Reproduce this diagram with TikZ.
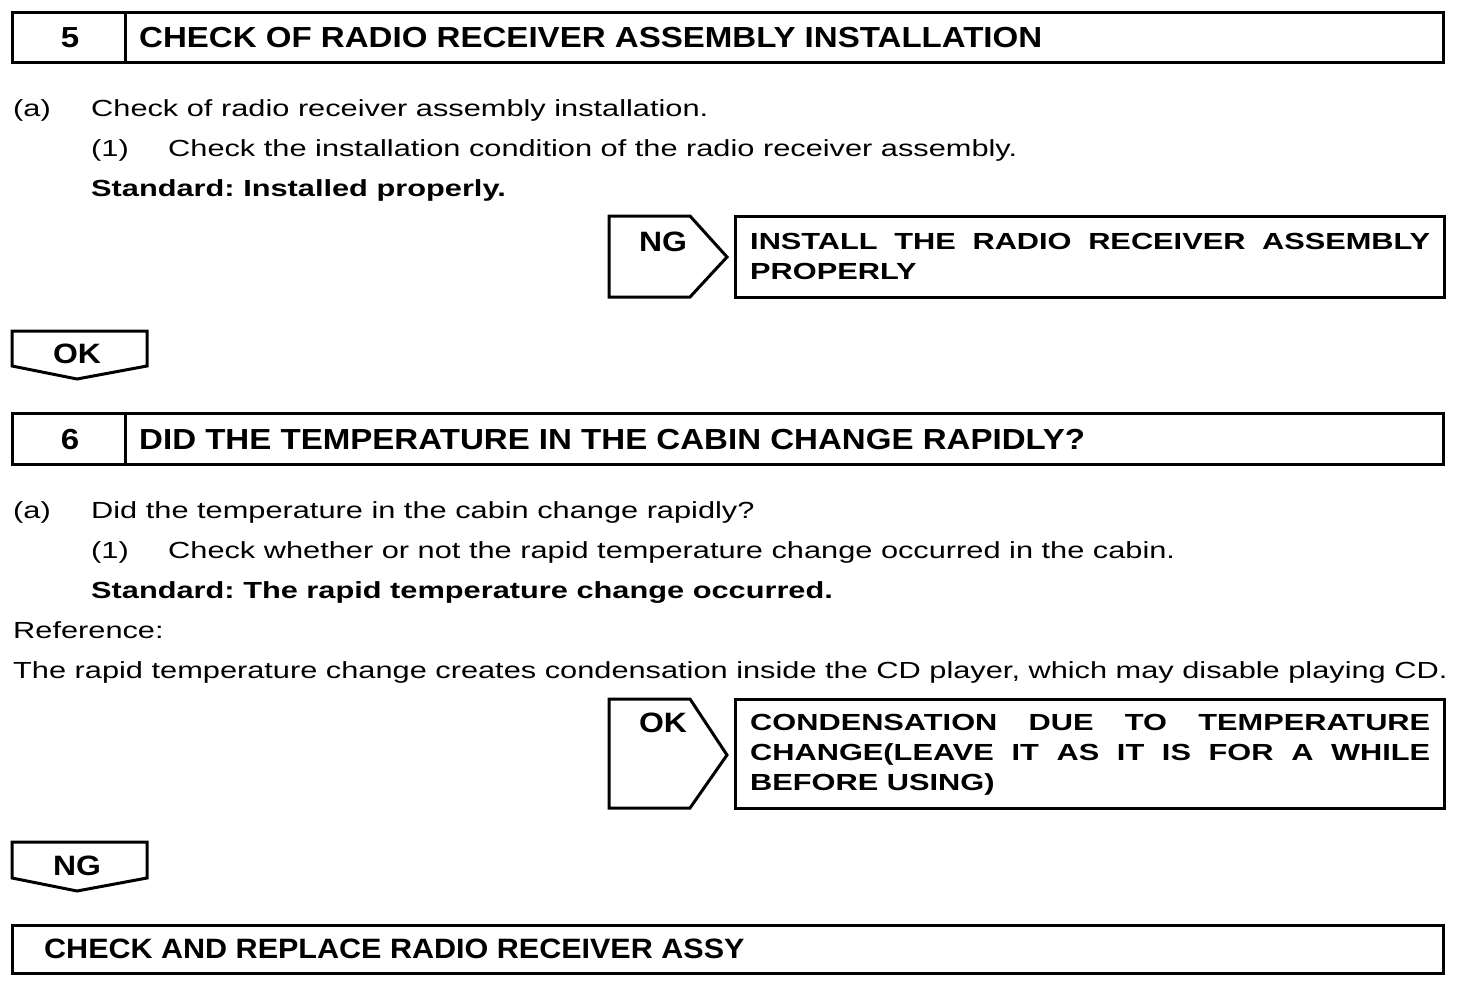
\documentclass[tikz,border=0pt]{standalone}
\usepackage{fontspec}
\setmainfont{Liberation Sans}
\newfontfamily\bodyfont{Liberation Sans}[FakeStretch=1.32]
\newfontfamily\headfont{Liberation Sans}[FakeStretch=1.14]
\newfontfamily\lastfont{Liberation Sans}[FakeStretch=1.09]
\usetikzlibrary{positioning}
\tikzset{
  frame/.style={line width=3pt},
  body/.style={anchor=base west,inner sep=0pt,font=\bodyfont\fontsize{23.3}{30}\selectfont},
  bold/.style={body,font=\bodyfont\fontsize{23.3}{30}\selectfont\bfseries},
  head/.style={anchor=base west,inner sep=0pt,font=\headfont\fontsize{29}{30}\selectfont\bfseries},
  tag/.style={anchor=base,inner sep=0pt,font=\headfont\fontsize{28}{30}\selectfont\bfseries},
  result/.style={anchor=north west,inner sep=0pt,text width=680pt,align=justify,font=\bodyfont\fontsize{23.3}{30}\selectfont\bfseries},
}
\frenchspacing
\begin{document}
\begin{tikzpicture}[x=1pt,y=-1pt]
\useasboundingbox (0,0) rectangle (1472,988);

% step 5
\draw[frame] (12,12) rectangle (1443,62);
\draw[frame] (125,12) -- (125,62);
\node[head,anchor=base] (n5) at (70,47) {5};
\node[head] (t5) at (139,47) {CHECK OF RADIO RECEIVER ASSEMBLY INSTALLATION};

\node[body] (a5) at (13,116) {(a)};
\node[body] (a5t) at (91,116) {Check of radio receiver assembly installation.};
\node[body] (b5) at (91,156) {(1)};
\node[body] (b5t) at (168,156) {Check the installation condition of the radio receiver assembly.};
\node[bold] (s5) at (91,196) {Standard: Installed properly.};

\draw[frame] (609,216) -- (690,216) -- (727,257) -- (690,297) -- (609,297) -- cycle;
\node[tag] (ng5) at (663,251) {NG};
\draw[frame] (735,216) rectangle (1444,297);
\node[result] (r5) at (750,233) {INSTALL THE RADIO RECEIVER ASSEMBLY\linebreak PROPERLY};

\draw[frame] (12,331) -- (147,331) -- (147,366) -- (77,379) -- (12,366) -- cycle;
\node[tag] (ok5) at (77,363) {OK};

% step 6
\draw[frame] (12,413) rectangle (1443,464);
\draw[frame] (125,413) -- (125,464);
\node[head,anchor=base] (n6) at (70,449) {6};
\node[head] (t6) at (139,449) {DID THE TEMPERATURE IN THE CABIN CHANGE RAPIDLY?};

\node[body] (a6) at (13,518) {(a)};
\node[body] (a6t) at (91,518) {Did the temperature in the cabin change rapidly?};
\node[body] (b6) at (91,558) {(1)};
\node[body] (b6t) at (168,558) {Check whether or not the rapid temperature change occurred in the cabin.};
\node[bold] (s6) at (91,598) {Standard: The rapid temperature change occurred.};
\node[body] (ref) at (13,638) {Reference:};
\node[body] (reft) at (13,678) {The rapid temperature change creates condensation inside the CD player, which may disable playing CD.};

\draw[frame] (609,699) -- (690,699) -- (727,755) -- (690,808) -- (609,808) -- cycle;
\node[tag] (ok6) at (663,732) {OK};
\draw[frame] (735,699) rectangle (1444,808);
\node[result] (r6) at (750,714) {CONDENSATION DUE TO TEMPERATURE\linebreak CHANGE(LEAVE IT AS IT IS FOR A WHILE\linebreak BEFORE USING)};

\draw[frame] (12,842) -- (147,842) -- (147,878) -- (77,891) -- (12,878) -- cycle;
\node[tag] (ng6) at (77,875) {NG};

\draw[frame] (12,925) rectangle (1443,973);
\node[head,font=\lastfont\fontsize{28}{30}\selectfont\bfseries] (fin) at (44,958) {CHECK AND REPLACE RADIO RECEIVER ASSY};
\end{tikzpicture}
\end{document}
